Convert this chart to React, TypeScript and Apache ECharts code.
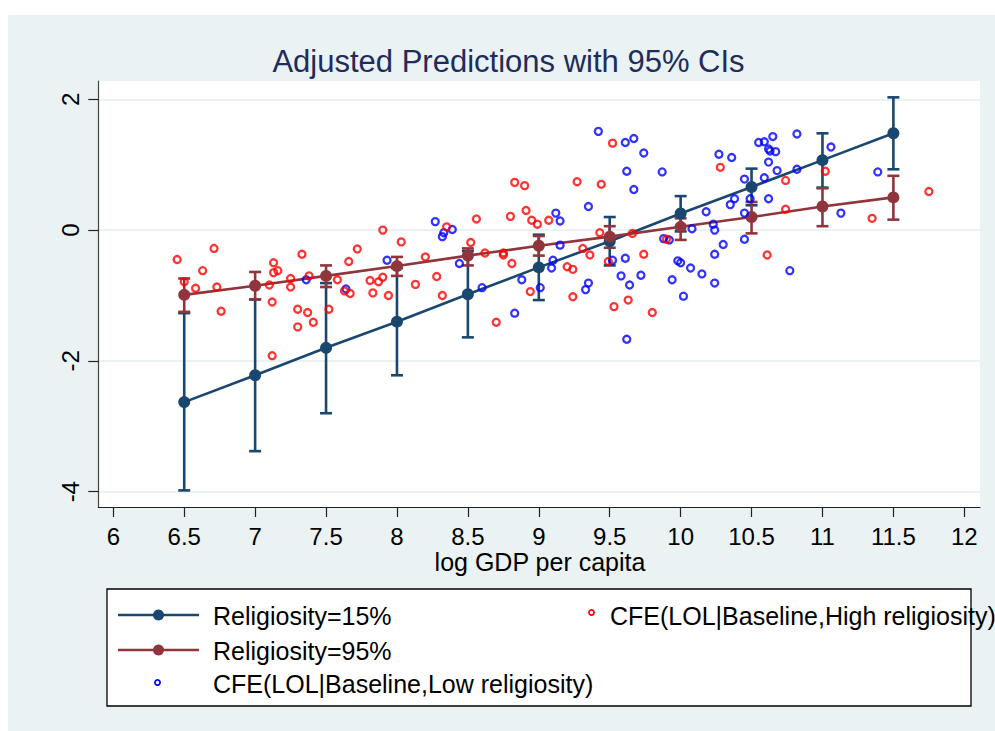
import React, { useEffect, useRef } from "react";
import * as echarts from "echarts";

// ---------- data ----------
const predX = [6.5, 7, 7.5, 8, 8.5, 9, 9.5, 10, 10.5, 11, 11.5];
const pred15 = [-2.63, -2.22, -1.8, -1.4, -0.98, -0.57, -0.17, 0.255, 0.66, 1.07, 1.48];
const lo15 = [-3.98, -3.38, -2.8, -2.22, -1.64, -1.07, -0.54, -0.02, 0.38, 0.65, 0.93];
const hi15 = [-1.27, -1.06, -0.81, -0.58, -0.32, -0.07, 0.2, 0.52, 0.94, 1.48, 2.03];
const pred95 = [-0.99, -0.85, -0.7, -0.55, -0.39, -0.24, -0.1, 0.05, 0.2, 0.36, 0.5];
const lo95 = [-1.25, -1.06, -0.87, -0.7, -0.54, -0.39, -0.27, -0.15, -0.05, 0.06, 0.16];
const hi95 = [-0.74, -0.64, -0.54, -0.41, -0.28, -0.09, 0.06, 0.18, 0.43, 0.64, 0.83];

const highX = [6.45, 6.71, 6.63, 6.5, 6.58, 6.73, 7.13, 7.13, 7.16, 7.1, 7.33, 7.25, 7.25, 7.38, 7.58, 7.66, 7.72, 7.63, 7.67, 7.81, 7.87, 7.9, 7.9, 7.83, 7.94, 8.03, 6.76, 7.12, 7.3, 7.37, 7.41, 7.3, 7.12, 7.52, 8.2, 8.28, 8.13, 8.32, 8.35, 8.56, 8.52, 8.62, 8.75, 8.75, 8.81, 8.8, 8.83, 8.9, 8.91, 8.95, 8.99, 9.07, 9.2, 9.24, 9.27, 9.31, 9.36, 9.44, 9.52, 9.43, 9.49, 9.66, 9.74, 9.9, 8.94, 9.24, 9.63, 8.7, 9.53, 9.8, 10.28, 10.74, 10.74, 11.02, 11.35, 11.75, 10.61];
const highY = [-0.45, -0.28, -0.62, -0.79, -0.89, -0.87, -0.5, -0.65, -0.62, -0.84, -0.37, -0.74, -0.87, -0.7, -0.76, -0.48, -0.29, -0.93, -0.97, -0.77, -0.79, -0.72, 0.0, -0.96, -1.0, -0.18, -1.24, -1.1, -1.21, -1.26, -1.41, -1.48, -1.92, -1.21, -0.41, -0.71, -0.83, -1.0, 0.05, 0.17, -0.19, -0.35, -0.35, -0.38, -0.51, 0.21, 0.73, 0.68, 0.3, 0.15, 0.09, 0.15, -0.56, -0.6, 0.74, -0.28, -0.38, 0.7, 1.33, -0.04, -0.48, -0.05, -0.37, -0.14, -0.94, -1.02, -1.07, -1.41, -1.17, -1.26, 0.96, 0.76, 0.32, 0.9, 0.18, 0.59, -0.38];

const lowX = [7.36, 7.93, 7.64, 8.27, 8.32, 8.33, 8.39, 8.44, 8.6, 8.88, 9.01, 9.09, 9.1, 9.15, 9.12, 9.15, 9.35, 9.42, 9.61, 9.67, 9.74, 9.62, 9.67, 9.87, 9.52, 9.61, 9.58, 9.64, 9.72, 9.33, 9.35, 9.88, 9.92, 9.94, 9.98, 8.83, 9.62, 10.27, 10.36, 10.55, 10.59, 10.65, 10.82, 10.62, 10.63, 10.67, 10.62, 11.06, 10.45, 10.59, 10.68, 10.82, 10.38, 10.35, 10.49, 10.62, 10.45, 10.18, 10.23, 10.24, 10.08, 10.45, 10.3, 10.24, 10.0, 10.07, 10.15, 10.24, 10.02, 10.77, 11.13, 11.39];
const lowY = [-0.76, -0.46, -0.9, 0.13, -0.1, -0.04, 0.01, -0.51, -0.88, -0.76, -0.88, -0.58, -0.46, -0.23, 0.26, 0.14, 0.36, 1.51, 1.34, 1.4, 1.18, 0.9, 0.62, 0.89, -0.46, -0.43, -0.7, -0.84, -0.69, -0.91, -0.81, -0.13, -0.15, -0.76, -0.47, -1.27, -1.67, 1.16, 1.11, 1.34, 1.35, 1.43, 1.47, 1.24, 1.21, 1.2, 1.04, 1.27, 0.78, 0.8, 0.91, 0.93, 0.48, 0.39, 0.48, 0.48, 0.26, 0.28, 0.09, 0.0, 0.02, -0.14, -0.22, -0.37, -0.5, -0.58, -0.67, -0.81, -1.01, -0.62, 0.26, 0.89];

const xTickMin = 6;
const xTickMax = 12;
const yTicks = [-4, 2];

const titleText = "Adjusted Predictions with 95% CIs";
const xTitle = "log GDP per capita";
const legendNames = [
  "Religiosity=15%",
  "Religiosity=95%",
  "CFE(LOL|Baseline,Low religiosity)",
  "CFE(LOL|Baseline,High religiosity)",
];

// ---------- styles ----------
const NAVY = "#1A476F";
const MAROON = "#90353B";
const RED = "#FF0000";
const BLUE = "#0000FF";
const BG = "#EAF2F3";
const FONT = "'Liberation Sans', Arial, sans-serif";

const X_MIN = 5.8942;
const X_MAX = 12.1107;
const Y_MIN = -4.234;
const Y_MAX = 2.28;

function errorBar(color: string) {
  return (params: any, api: any) => {
    const x = api.value(0);
    const p1 = api.coord([x, api.value(1)]);
    const p2 = api.coord([x, api.value(2)]);
    const hw = 6;
    const st = { stroke: color, lineWidth: 2.6 };
    return {
      type: "group",
      children: [
        { type: "line", shape: { x1: p1[0], y1: p1[1], x2: p2[0], y2: p2[1] }, style: st },
        { type: "line", shape: { x1: p1[0] - hw, y1: p1[1], x2: p1[0] + hw, y2: p1[1] }, style: st },
        { type: "line", shape: { x1: p2[0] - hw, y1: p2[1], x2: p2[0] + hw, y2: p2[1] }, style: st },
      ],
    };
  };
}

function buildOption() {
  const legendTextStyle = { fill: "#000", fontSize: 25, fontFamily: FONT, verticalAlign: "middle" };
  return {
    animation: false,
    backgroundColor: BG,
    textStyle: { fontFamily: FONT },
    grid: [
      { left: 98.3, top: 81, width: 881.7, height: 426, show: true, backgroundColor: "#fff", borderWidth: 0 },
      { left: 98.3, top: 99.3, width: 881.7, height: 392.4, show: false },
      { left: 113.3, top: 81, width: 851, height: 426, show: false },
    ],
    xAxis: [
      {
        gridIndex: 0, type: "value", min: X_MIN, max: X_MAX,
        axisLine: { show: true, onZero: false, lineStyle: { color: "#222", width: 1.2 } },
        axisTick: { show: false }, axisLabel: { show: false }, splitLine: { show: false },
      },
      { gridIndex: 1, type: "value", min: 0, max: 1, show: false },
      {
        gridIndex: 2, type: "value", min: xTickMin, max: xTickMax, interval: 0.5, position: "bottom",
        axisLine: { show: false, onZero: false },
        axisTick: { show: true, length: 10, lineStyle: { color: "#222", width: 1.2 } },
        axisLabel: { fontSize: 24, color: "#000", margin: 17, fontFamily: FONT },
        splitLine: { show: false },
      },
    ],
    yAxis: [
      {
        gridIndex: 0, type: "value", min: Y_MIN, max: Y_MAX,
        axisLine: { show: true, onZero: false, lineStyle: { color: "#444", width: 1.2 } },
        axisTick: { show: false }, axisLabel: { show: false }, splitLine: { show: false },
      },
      {
        gridIndex: 1, type: "value", min: yTicks[0], max: yTicks[1], interval: 2, position: "left",
        axisLine: { show: false, onZero: false },
        axisTick: { show: true, length: 10, lineStyle: { color: "#222", width: 1.2 } },
        axisLabel: { fontSize: 24, color: "#000", rotate: 90, margin: 16, fontFamily: FONT },
        splitLine: { show: true, lineStyle: { color: BG, width: 2 } },
      },
      { gridIndex: 2, type: "value", min: 0, max: 1, show: false },
    ],
    graphic: [
      { type: "rect", shape: { x: 0, y: 0, width: 995, height: 15 }, style: { fill: "#fff" }, silent: true },
      { type: "rect", shape: { x: 0, y: 0, width: 8, height: 731 }, style: { fill: "#fff" }, silent: true },
      {
        type: "text", x: 508.5, y: 61,
        style: { text: titleText, fill: "#1e2d5a", fontSize: 31, fontFamily: FONT, align: "center", verticalAlign: "middle" },
      },
      {
        type: "text", x: 540, y: 562,
        style: { text: xTitle, fill: "#000", fontSize: 25, fontFamily: FONT, align: "center", verticalAlign: "middle" },
      },
      {
        type: "rect", shape: { x: 107, y: 589, width: 864, height: 117 },
        style: { fill: "#fff", stroke: "#000", lineWidth: 1.3 },
      },
      { type: "line", shape: { x1: 118, y1: 615, x2: 199, y2: 615 }, style: { stroke: NAVY, lineWidth: 2.6 } },
      { type: "circle", shape: { cx: 158.5, cy: 615, r: 5.5 }, style: { fill: NAVY } },
      { type: "text", x: 213, y: 616, style: { text: legendNames[0], ...legendTextStyle } },
      { type: "line", shape: { x1: 118, y1: 650, x2: 199, y2: 650 }, style: { stroke: MAROON, lineWidth: 2.6 } },
      { type: "circle", shape: { cx: 158.5, cy: 650, r: 5.5 }, style: { fill: MAROON } },
      { type: "text", x: 213, y: 651, style: { text: legendNames[1], ...legendTextStyle } },
      { type: "circle", shape: { cx: 157.5, cy: 682.5, r: 2.6 }, style: { fill: "none", stroke: BLUE, lineWidth: 1.7 } },
      { type: "text", x: 213, y: 684, style: { text: legendNames[2], ...legendTextStyle } },
      { type: "circle", shape: { cx: 591.5, cy: 612.5, r: 2.6 }, style: { fill: "none", stroke: RED, lineWidth: 1.7 } },
      { type: "text", x: 610, y: 616, style: { text: legendNames[3], ...legendTextStyle } },
    ],
    series: [
      {
        type: "custom", name: "ci15", xAxisIndex: 0, yAxisIndex: 0,
        data: predX.map((x, i) => [x, lo15[i], hi15[i]]),
        encode: { x: 0, y: [1, 2] }, renderItem: errorBar(NAVY), clip: false, z: 2,
      },
      {
        type: "custom", name: "ci95", xAxisIndex: 0, yAxisIndex: 0,
        data: predX.map((x, i) => [x, lo95[i], hi95[i]]),
        encode: { x: 0, y: [1, 2] }, renderItem: errorBar(MAROON), clip: false, z: 2,
      },
      {
        type: "line", name: legendNames[0], xAxisIndex: 0, yAxisIndex: 0,
        data: predX.map((x, i) => [x, pred15[i]]),
        symbol: "circle", symbolSize: 12, showAllSymbol: true, clip: false,
        itemStyle: { color: NAVY }, lineStyle: { color: NAVY, width: 2.6 }, z: 3,
      },
      {
        type: "line", name: legendNames[1], xAxisIndex: 0, yAxisIndex: 0,
        data: predX.map((x, i) => [x, pred95[i]]),
        symbol: "circle", symbolSize: 12, showAllSymbol: true, clip: false,
        itemStyle: { color: MAROON }, lineStyle: { color: MAROON, width: 2.6 }, z: 3,
      },
      {
        type: "scatter", name: legendNames[2], xAxisIndex: 0, yAxisIndex: 0,
        data: lowX.map((x, i) => [x, lowY[i]]),
        symbol: "circle", symbolSize: 7,
        itemStyle: { color: "rgba(0,0,0,0)", borderColor: BLUE, borderWidth: 2.3 }, z: 4,
      },
      {
        type: "scatter", name: legendNames[3], xAxisIndex: 0, yAxisIndex: 0,
        data: highX.map((x, i) => [x, highY[i]]),
        symbol: "circle", symbolSize: 7,
        itemStyle: { color: "rgba(0,0,0,0)", borderColor: RED, borderWidth: 2.3 }, z: 5,
      },
    ],
  };
}

export default function App() {
  const ref = useRef<HTMLDivElement>(null);
  useEffect(() => {
    if (!ref.current) return;
    const chart = echarts.init(ref.current, undefined, { renderer: "svg" });
    chart.setOption(buildOption() as any);
    return () => chart.dispose();
  }, []);
  return (
    <div
      ref={ref}
      style={{ position: "fixed", left: 0, top: 0, width: 995, height: 731 }}
    />
  );
}
